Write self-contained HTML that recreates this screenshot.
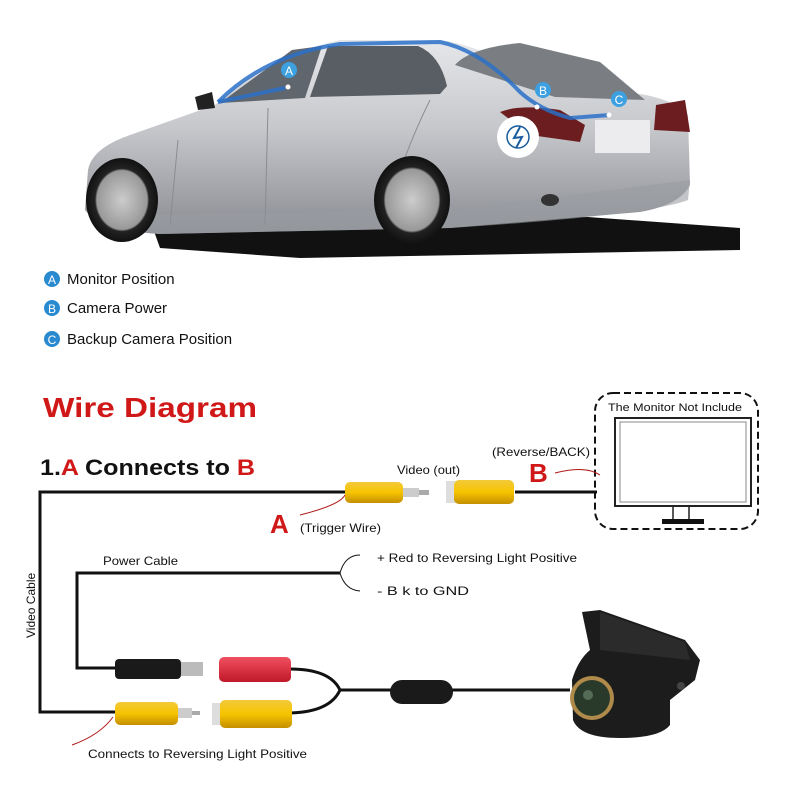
<!DOCTYPE html>
<html><head><meta charset="utf-8"><style>
body{margin:0;background:#fff}
svg text{font-family:"Liberation Sans",sans-serif}
</style></head><body>
<svg width="800" height="800" viewBox="0 0 800 800" xmlns="http://www.w3.org/2000/svg">
<defs>
<linearGradient id="body" x1="0" y1="0" x2="0" y2="1"><stop offset="0" stop-color="#e6e7ea"/><stop offset=".45" stop-color="#c6c8cc"/><stop offset="1" stop-color="#8a8c92"/></linearGradient>
<linearGradient id="yel" x1="0" y1="0" x2="0" y2="1"><stop offset="0" stop-color="#f2c93a"/><stop offset=".5" stop-color="#f7c400"/><stop offset="1" stop-color="#c48f00"/></linearGradient>
<linearGradient id="red" x1="0" y1="0" x2="0" y2="1"><stop offset="0" stop-color="#f05060"/><stop offset="1" stop-color="#c01828"/></linearGradient>
<radialGradient id="wheel"><stop offset="0" stop-color="#ccc"/><stop offset=".7" stop-color="#999"/><stop offset=".75" stop-color="#222"/><stop offset="1" stop-color="#111"/></radialGradient>
</defs>
<!-- car shadow -->
<path d="M150 220 L560 215 L740 228 L740 250 L300 258 L160 248 Z" fill="#111"/>
<!-- car body -->
<path d="M88 170 Q92 148 130 135 L215 105 Q270 55 340 40 L440 40 Q480 45 525 75 L620 92 Q670 95 688 115 L690 185 Q680 205 640 212 L450 228 L160 234 Q100 230 85 210 Z" fill="url(#body)"/>
<path d="M90 200 L160 215 L450 210 L690 180 L688 200 Q650 215 450 228 L160 234 Q100 230 88 210 Z" fill="#9a9ca2" opacity=".6"/>
<!-- windows -->
<path d="M220 103 L292 50 L322 46 L305 98 Z" fill="#60666d"/>
<path d="M310 97 L328 46 L418 46 Q440 55 447 86 L440 94 Z" fill="#585e64"/>
<path d="M455 65 Q470 48 520 43 L600 62 L645 100 L555 97 Z" fill="#7a7e83"/>
<!-- door lines -->
<path d="M178 140 L170 225 M268 108 L265 225 M430 100 Q400 160 385 225" stroke="#8a8c90" fill="none"/>
<!-- tail lights -->
<path d="M500 112 Q520 104 560 110 L585 125 L580 142 L530 135 Z" fill="#6b1d20"/>
<path d="M656 105 L685 100 L690 132 L654 130 Z" fill="#6b1d20"/>
<rect x="595" y="120" width="55" height="33" fill="#ececee"/>
<!-- mirror -->
<path d="M195 97 L212 92 L215 108 L198 110 Z" fill="#222"/>
<!-- wheels -->
<ellipse cx="122" cy="200" rx="36" ry="42" fill="url(#wheel)"/>
<ellipse cx="412" cy="200" rx="38" ry="44" fill="url(#wheel)"/>
<ellipse cx="550" cy="200" rx="9" ry="6" fill="#333"/>
<!-- blue line -->
<path d="M218 102 Q265 55 340 44 L440 42 Q480 50 520 92 Q540 110 570 118 L610 115" stroke="#2a70c8" stroke-width="4" fill="none" stroke-opacity=".85"/>
<path d="M218 102 L285 88" stroke="#2a70c8" stroke-width="4" fill="none" stroke-opacity=".85"/>
<circle cx="289" cy="70" r="8" fill="#3da0e0"/><text x="289" y="75" font-size="12" fill="#fff" text-anchor="middle">A</text>
<circle cx="543" cy="90" r="8" fill="#3da0e0"/><text x="543" y="95" font-size="12" fill="#fff" text-anchor="middle">B</text>
<circle cx="619" cy="99" r="8" fill="#3da0e0"/><text x="619" y="104" font-size="12" fill="#fff" text-anchor="middle">C</text>
<circle cx="288" cy="87" r="2.5" fill="#fff"/><circle cx="537" cy="107" r="2.5" fill="#fff"/><circle cx="609" cy="115" r="2.5" fill="#fff"/>
<circle cx="518" cy="137" r="21" fill="#fff"/>
<circle cx="518" cy="137" r="11" fill="none" stroke="#1a5c9c" stroke-width="1.5"/>
<path d="M520 127 L514 138 L522 137 L516 148" stroke="#1a5c9c" stroke-width="2" fill="none"/>
<!-- legend -->
<g font-size="15" fill="#111">
<circle cx="52" cy="279" r="8" fill="#2a8ad0"/><text x="52" y="284" font-size="12" fill="#fff" text-anchor="middle">A</text><text x="67" y="284">Monitor Position</text>
<circle cx="52" cy="308" r="8" fill="#2a8ad0"/><text x="52" y="313" font-size="12" fill="#fff" text-anchor="middle">B</text><text x="67" y="313">Camera Power</text>
<circle cx="52" cy="339" r="8" fill="#2a8ad0"/><text x="52" y="344" font-size="12" fill="#fff" text-anchor="middle">C</text><text x="67" y="344">Backup Camera Position</text>
</g>
<text x="43" y="417" font-size="28" font-weight="bold" fill="#d01818" textLength="214" lengthAdjust="spacingAndGlyphs">Wire Diagram</text>
<text x="40" y="475" font-size="22" font-weight="bold" fill="#111" textLength="215" lengthAdjust="spacingAndGlyphs">1.<tspan fill="#d01818">A</tspan> Connects to <tspan fill="#d01818">B</tspan></text>
<!-- wires -->
<g stroke="#111" stroke-width="3" fill="none">
<path d="M345 492 L40 492 L40 712 L120 712"/>
<path d="M515 492 L597 492"/>
<path d="M340 573 L77 573 L77 668 L120 668"/>
<path d="M290 669 Q330 669 340 690 Q330 712 290 713"/>
<path d="M340 690 L570 690"/>
<path d="M340 573 Q345 555 360 555 M340 573 Q345 590 360 591" stroke-width="1"/>
</g>
<!-- video connectors -->
<rect x="345" y="482" width="58" height="21" rx="5" fill="url(#yel)"/>
<rect x="403" y="488" width="16" height="9" fill="#ccc"/>
<rect x="419" y="490" width="10" height="5" fill="#aaa"/>
<rect x="446" y="481" width="10" height="22" fill="#ddd"/>
<rect x="454" y="480" width="60" height="24" rx="5" fill="url(#yel)"/>
<!-- monitor -->
<rect x="595" y="393" width="163" height="136" rx="18" fill="none" stroke="#111" stroke-width="2" stroke-dasharray="7 4"/>
<text x="608" y="411" font-size="11" fill="#111" textLength="134" lengthAdjust="spacingAndGlyphs">The Monitor Not Include</text>
<rect x="615" y="418" width="136" height="88" fill="#fff" stroke="#222" stroke-width="2"/>
<rect x="620" y="422" width="126" height="80" fill="none" stroke="#888" stroke-width="1"/>
<path d="M673 506 L673 520 M689 506 L689 520" stroke="#222" stroke-width="1.5"/>
<rect x="662" y="519" width="42" height="5" fill="#111"/>
<!-- labels -->
<text x="397" y="474" font-size="12" fill="#111" textLength="63" lengthAdjust="spacingAndGlyphs">Video (out)</text>
<text x="492" y="456" font-size="12" fill="#111" textLength="98" lengthAdjust="spacingAndGlyphs">(Reverse/BACK)</text>
<text x="529" y="482" font-size="26" font-weight="bold" fill="#d01818">B</text>
<path d="M555 473 Q585 465 600 475" stroke="#b01818" fill="none"/>
<text x="270" y="533" font-size="26" font-weight="bold" fill="#d01818">A</text>
<text x="300" y="532" font-size="12" fill="#111" textLength="81" lengthAdjust="spacingAndGlyphs">(Trigger Wire)</text>
<path d="M300 515 Q340 505 345 495" stroke="#b01818" fill="none"/>
<text x="103" y="565" font-size="12" fill="#111" textLength="75" lengthAdjust="spacingAndGlyphs">Power Cable</text>
<text x="377" y="562" font-size="12" fill="#111" textLength="200" lengthAdjust="spacingAndGlyphs">+ Red to Reversing Light Positive</text>
<text x="377" y="595" font-size="12" fill="#111" textLength="92" lengthAdjust="spacingAndGlyphs">- B      k to GND</text>
<text transform="translate(35,638) rotate(-90)" font-size="12" fill="#111">Video Cable</text>
<text x="88" y="758" font-size="12" fill="#111" textLength="219" lengthAdjust="spacingAndGlyphs">Connects to Reversing Light Positive</text>
<path d="M72 745 Q100 735 113 717" stroke="#b01818" fill="none"/>
<!-- bottom connectors -->
<rect x="115" y="659" width="66" height="20" rx="4" fill="#1a1a1a"/>
<rect x="181" y="662" width="22" height="14" fill="#bbb"/>
<rect x="219" y="657" width="72" height="25" rx="5" fill="url(#red)"/>
<rect x="115" y="702" width="63" height="23" rx="5" fill="url(#yel)"/>
<rect x="178" y="708" width="14" height="10" fill="#ccc"/>
<rect x="192" y="711" width="8" height="4" fill="#aaa"/>
<rect x="212" y="703" width="10" height="22" fill="#ddd"/>
<rect x="220" y="700" width="72" height="28" rx="5" fill="url(#yel)"/>
<rect x="390" y="680" width="63" height="24" rx="12" fill="#1a1a1a"/>
<!-- camera -->
<path d="M582 612 L600 610 L685 640 L700 660 L695 680 L670 700 L670 725 Q660 738 620 738 Q580 738 573 720 L572 680 Q578 660 590 650 Z" fill="#1c1c1c"/>
<path d="M600 612 L685 642 L690 660 L600 650 Z" fill="#2b2b2b"/>
<circle cx="592" cy="698" r="22" fill="#b08a4a"/>
<circle cx="592" cy="698" r="18" fill="#2a3a2a"/>
<circle cx="588" cy="695" r="5" fill="#556b55"/>
<circle cx="681" cy="686" r="4" fill="#444"/>
</svg>
</body></html>
